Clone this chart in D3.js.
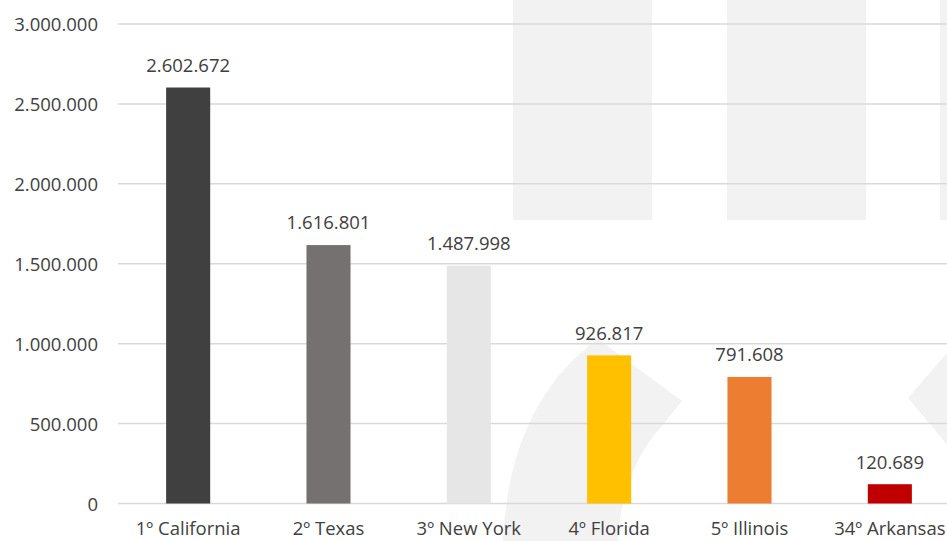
<!DOCTYPE html>
<html>
<head>
<meta charset="utf-8">
<script src="https://cdn.jsdelivr.net/npm/d3@7"></script>
<style>
  html, body { margin: 0; padding: 0; background: #ffffff; }
  svg { display: block; }
  text { font-family: "Open Sans", Lato, sans-serif; fill: #404040; }
</style>
</head>
<body>
<svg id="chart" width="947" height="541"></svg>
<script>
// ---- data ----
const categories = ["1º California", "2º Texas", "3º New York", "4º Florida", "5º Illinois", "34º Arkansas"];
const values = [2602672, 1616801, 1487998, 926817, 791608, 120689];
const barColors = ["#404040", "#767171", "#E7E6E6", "#FFC000", "#ED7D31", "#C00000"];
const yTicks = [0, 500000, 1000000, 1500000, 2000000, 2500000, 3000000];

const W = 947, H = 541;
const svg = d3.select("#chart");

// number format with dots as thousands separator
const loc = d3.formatLocale({ decimal: ",", thousands: ".", grouping: [3], currency: ["", ""] });
const fmt = loc.format(",d");

const y = d3.scaleLinear().domain([0, 3000000]).range([503.5, 24]);
const x = d3.scaleBand().domain(categories).range([118, 960]).paddingInner(0.686).paddingOuter(0.343);

// ---- background watermark shapes ----
const wm = svg.append("g").attr("fill", "#F2F2F2");
wm.append("rect").attr("x", 513).attr("y", 0).attr("width", 139).attr("height", 220);
wm.append("rect").attr("x", 727).attr("y", 0).attr("width", 139).attr("height", 220);
wm.append("rect").attr("x", 940).attr("y", 0).attr("width", 20).attr("height", 220);
wm.append("path").attr("d", "M503,541 C507,455 535,385 598,339 L682,401 L652,438 C633,463 620,500 618,541 Z");
wm.append("path").attr("d", "M960,338 L908,398 L960,460 Z");

// ---- gridlines ----
const grid = svg.append("g");
grid.selectAll("line").data(yTicks).join("line")
  .attr("x1", 118).attr("x2", W)
  .attr("y1", d => y(d)).attr("y2", d => y(d))
  .attr("stroke", "#D9D9D9").attr("stroke-width", 1.5);

// ---- y tick labels ----
svg.append("g").selectAll("text").data(yTicks).join("text")
  .attr("x", 98).attr("y", d => y(d) + 7)
  .attr("text-anchor", "end")
  .attr("font-size", 18.5)
  .text(d => fmt(d));

// ---- bars ----
svg.append("g").selectAll("rect").data(values).join("rect")
  .attr("x", (d, i) => x(categories[i]))
  .attr("width", x.bandwidth())
  .attr("y", d => y(d))
  .attr("height", d => y(0) - y(d))
  .attr("fill", (d, i) => barColors[i]);

// ---- value labels ----
svg.append("g").selectAll("text").data(values).join("text")
  .attr("x", (d, i) => x(categories[i]) + x.bandwidth() / 2)
  .attr("y", d => y(d) - 15.7)
  .attr("text-anchor", "middle")
  .attr("font-size", 18.5)
  .text(d => fmt(d));

// ---- category labels ----
svg.append("g").selectAll("text").data(categories).join("text")
  .attr("x", d => x(d) + x.bandwidth() / 2)
  .attr("y", 535)
  .attr("text-anchor", "middle")
  .attr("font-size", 18.5)
  .text(d => d);
</script>
</body>
</html>
